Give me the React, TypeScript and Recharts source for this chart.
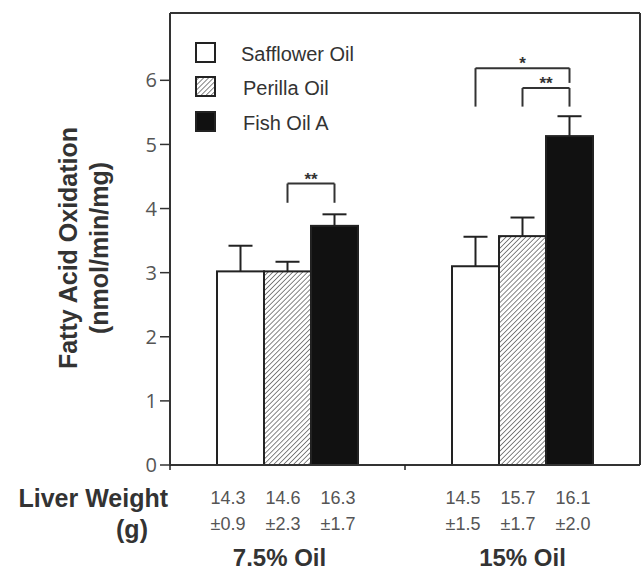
import React from "react"
import { BarChart, Bar, XAxis, YAxis, ReferenceLine, ReferenceDot, Legend } from "recharts"

// fatty acid oxidation (nmol/min/mg), per diet group
const groups = ["7.5% Oil", "15% Oil"]
const safflower = [3.02, 3.1]
const safflowerErr = [0.4, 0.46]
const perilla = [3.02, 3.57]
const perillaErr = [0.15, 0.29]
const fishOil = [3.73, 5.13]
const fishOilErr = [0.18, 0.31]

// liver weight (g) shown under each bar
const liverMean = [
  ["14.3", "14.6", "16.3"],
  ["14.5", "15.7", "16.1"],
]
const liverSd = [
  ["±0.9", "±2.3", "±1.7"],
  ["±1.5", "±1.7", "±2.0"],
]

const yTicks = [0, 1, 2, 3, 4, 5, 6]
const yMax = 7.05

// significance brackets: group, from series, to series, heights
const bracketGroup = [0, 1, 1]
const bracketFrom = [1, 0, 1]
const bracketTo = [2, 2, 2]
const bracketTop = [4.39, 6.19, 5.88]
const bracketLeftEnd = [4.09, 5.59, 5.59]
const bracketRightEnd = [4.09, 5.96, 5.59]
const bracketMark = ["**", "*", "**"]

const series = [
  { key: "safflower", err: "safflowerErr", name: "Safflower Oil", fill: "#ffffff" },
  { key: "perilla", err: "perillaErr", name: "Perilla Oil", fill: "url(#hatch)" },
  { key: "fish", err: "fishErr", name: "Fish Oil A", fill: "#111111" },
]

const data = groups.map((g, i) => ({
  group: g,
  pos: i + 0.5,
  safflower: safflower[i],
  safflowerErr: safflowerErr[i],
  perilla: perilla[i],
  perillaErr: perillaErr[i],
  fish: fishOil[i],
  fishErr: fishOilErr[i],
}))

const INK = "#222"
const SANS = "'Liberation Sans', Arial, Helvetica, sans-serif"

// bar centre on the 0..2 position axis (barCategoryGap 20%, three bars)
const barPos = (group: number, s: number) => group + 0.5 + (s - 1) * 0.2

function BarWithError(props: any) {
  const { x, y, width, height, fill, payload, dataKey, errKey } = props
  const val = payload[dataKey]
  const err = payload[errKey]
  const errPx = val ? (err * height) / val : 0
  const cx = x + width / 2
  return (
    <g>
      <rect x={x} y={y} width={width} height={height} fill={fill} stroke={INK} strokeWidth={2} />
      <line x1={cx} y1={y} x2={cx} y2={y - errPx} stroke={INK} strokeWidth={2} />
      <line x1={cx - 12} y1={y - errPx} x2={cx + 12} y2={y - errPx} stroke={INK} strokeWidth={2} />
    </g>
  )
}

function GroupTick(props: any) {
  const { x, y, payload, index } = props
  const half = payload && payload.offset ? payload.offset : 117.5
  const left = x - half
  const offs = [-77, -22, 33]
  return (
    <g>
      <line x1={left} y1={y} x2={left} y2={y + 5} stroke={INK} strokeWidth={1.5} />
      {index === 0 && (
        <g fontFamily={SANS} fontWeight="bold" fontSize={25} fill="#333">
          <text x={left - 2} y={y + 42} textAnchor="end">Liver Weight</text>
          <text x={left - 38} y={y + 73} textAnchor="middle">(g)</text>
        </g>
      )}
      <g fontFamily={SANS} fontSize={18} fill="#555">
        {offs.map((o, i) => (
          <g key={i}>
            <text x={x + o} y={y + 39}>{liverMean[index][i]}</text>
            <text x={x + o} y={y + 65}>{liverSd[index][i]}</text>
          </g>
        ))}
      </g>
      <text x={x + (index === 0 ? -8 : 0)} y={y + 101} textAnchor="middle" fontFamily={SANS} fontWeight="bold" fontSize={24} fill="#333">
        {payload.value}
      </text>
    </g>
  )
}

function YTitle(props: any) {
  const vb = props.viewBox || { x: 0, y: 13, width: 170, height: 452 }
  const cy = vb.y + vb.height / 2 + 9
  return (
    <g fontFamily={SANS} fontWeight="bold" fontSize={25} fill="#333" textAnchor="middle">
      <text transform={`translate(${vb.x + 77}, ${cy}) rotate(-90)`}>Fatty Acid Oxidation</text>
      <text transform={`translate(${vb.x + 108}, ${cy}) rotate(-90)`}>(nmol/min/mg)</text>
    </g>
  )
}

function Swatch({ fill }: { fill: string }) {
  return (
    <svg width={21} height={21} style={{ display: "block" }}>
      <defs>
        <pattern id="hatchLegend" width={3.5} height={3.5} patternUnits="userSpaceOnUse" patternTransform="rotate(45)">
          <line x1={0} y1={0} x2={0} y2={3.5} stroke="#444" strokeWidth={1.3} />
        </pattern>
      </defs>
      <rect x={1} y={1} width={19} height={19} fill={fill === "url(#hatch)" ? "url(#hatchLegend)" : fill} stroke={INK} strokeWidth={2} />
    </svg>
  )
}

function LegendBox() {
  return (
    <div style={{ fontFamily: SANS, fontSize: 20, color: "#333" }}>
      {series.map((s) => (
        <div key={s.key} style={{ display: "flex", alignItems: "center", height: 34.5 }}>
          <Swatch fill={s.fill} />
          <span style={{ marginLeft: s.key === "safflower" ? 25 : 27, position: "relative", top: 2 }}>{s.name}</span>
        </div>
      ))}
    </div>
  )
}

export default function App() {
  return (
    <div style={{ position: "absolute", left: 0, top: 0, background: "#fff" }}>
      <BarChart
        width={643}
        height={572}
        data={data}
        margin={{ top: 13, right: 3, left: 0, bottom: 0 }}
        barGap={0}
        barCategoryGap="20%"
      >
        <defs>
          <pattern id="hatch" width={3.5} height={3.5} patternUnits="userSpaceOnUse" patternTransform="rotate(45)">
            <rect width={3.5} height={3.5} fill="#fff" />
            <line x1={0} y1={0} x2={0} y2={3.5} stroke="#444" strokeWidth={1.3} />
          </pattern>
        </defs>
        <XAxis
          dataKey="group"
          height={107}
          interval={0}
          tickLine={false}
          tickSize={0}
          tickMargin={0}
          axisLine={{ stroke: "#333", strokeWidth: 2 }}
          tick={<GroupTick />}
        />
        <XAxis xAxisId="pos" dataKey="pos" type="number" domain={[0, 2]} allowDataOverflow hide />
        <YAxis
          width={170}
          domain={[0, yMax]}
          ticks={yTicks}
          allowDataOverflow
          tickSize={10}
          tickMargin={3}
          axisLine={{ stroke: "#333", strokeWidth: 2 }}
          tickLine={{ stroke: "#333", strokeWidth: 1.5 }}
          tick={{ fill: "#555", fontSize: 20, fontFamily: "'Open Sans', sans-serif" }}
          label={<YTitle />}
        />
        <Legend
          layout="vertical"
          align="center"
          verticalAlign="middle"
          content={<LegendBox />}
          wrapperStyle={{ position: "absolute", left: 195, top: 35, width: "auto", height: "auto" }}
        />
        {series.map((s) => (
          <Bar
            key={s.key}
            dataKey={s.key}
            name={s.name}
            fill={s.fill}
            isAnimationActive={false}
            shape={(p: any) => <BarWithError {...p} dataKey={s.key} errKey={s.err} fill={s.fill} />}
          />
        ))}
        {/* frame top + right */}
        <ReferenceLine y={yMax} stroke="#333" strokeWidth={2} ifOverflow="visible" />
        <ReferenceLine xAxisId="pos" x={2} stroke="#333" strokeWidth={2} ifOverflow="visible" />
        {bracketGroup.map((g, i) => {
          const x1 = barPos(g, bracketFrom[i])
          const x2 = barPos(g, bracketTo[i])
          return (
            <React.Fragment key={i}>
              <ReferenceLine xAxisId="pos" ifOverflow="visible" stroke="#333" strokeWidth={2}
                segment={[{ x: x1, y: bracketTop[i] }, { x: x2, y: bracketTop[i] }]} />
              <ReferenceLine xAxisId="pos" ifOverflow="visible" stroke="#333" strokeWidth={2}
                segment={[{ x: x1, y: bracketTop[i] }, { x: x1, y: bracketLeftEnd[i] }]} />
              <ReferenceLine xAxisId="pos" ifOverflow="visible" stroke="#333" strokeWidth={2}
                segment={[{ x: x2, y: bracketTop[i] }, { x: x2, y: bracketRightEnd[i] }]} />
              <ReferenceDot xAxisId="pos" x={(x1 + x2) / 2} y={bracketTop[i]} r={0} ifOverflow="visible"
                shape={(p: any) => (
                  <text x={p.cx} y={p.cy + 1} textAnchor="middle" fontFamily={SANS} fontWeight="bold" fontSize={17} fill="#333">
                    {bracketMark[i]}
                  </text>
                )} />
            </React.Fragment>
          )
        })}
      </BarChart>
    </div>
  )
}
